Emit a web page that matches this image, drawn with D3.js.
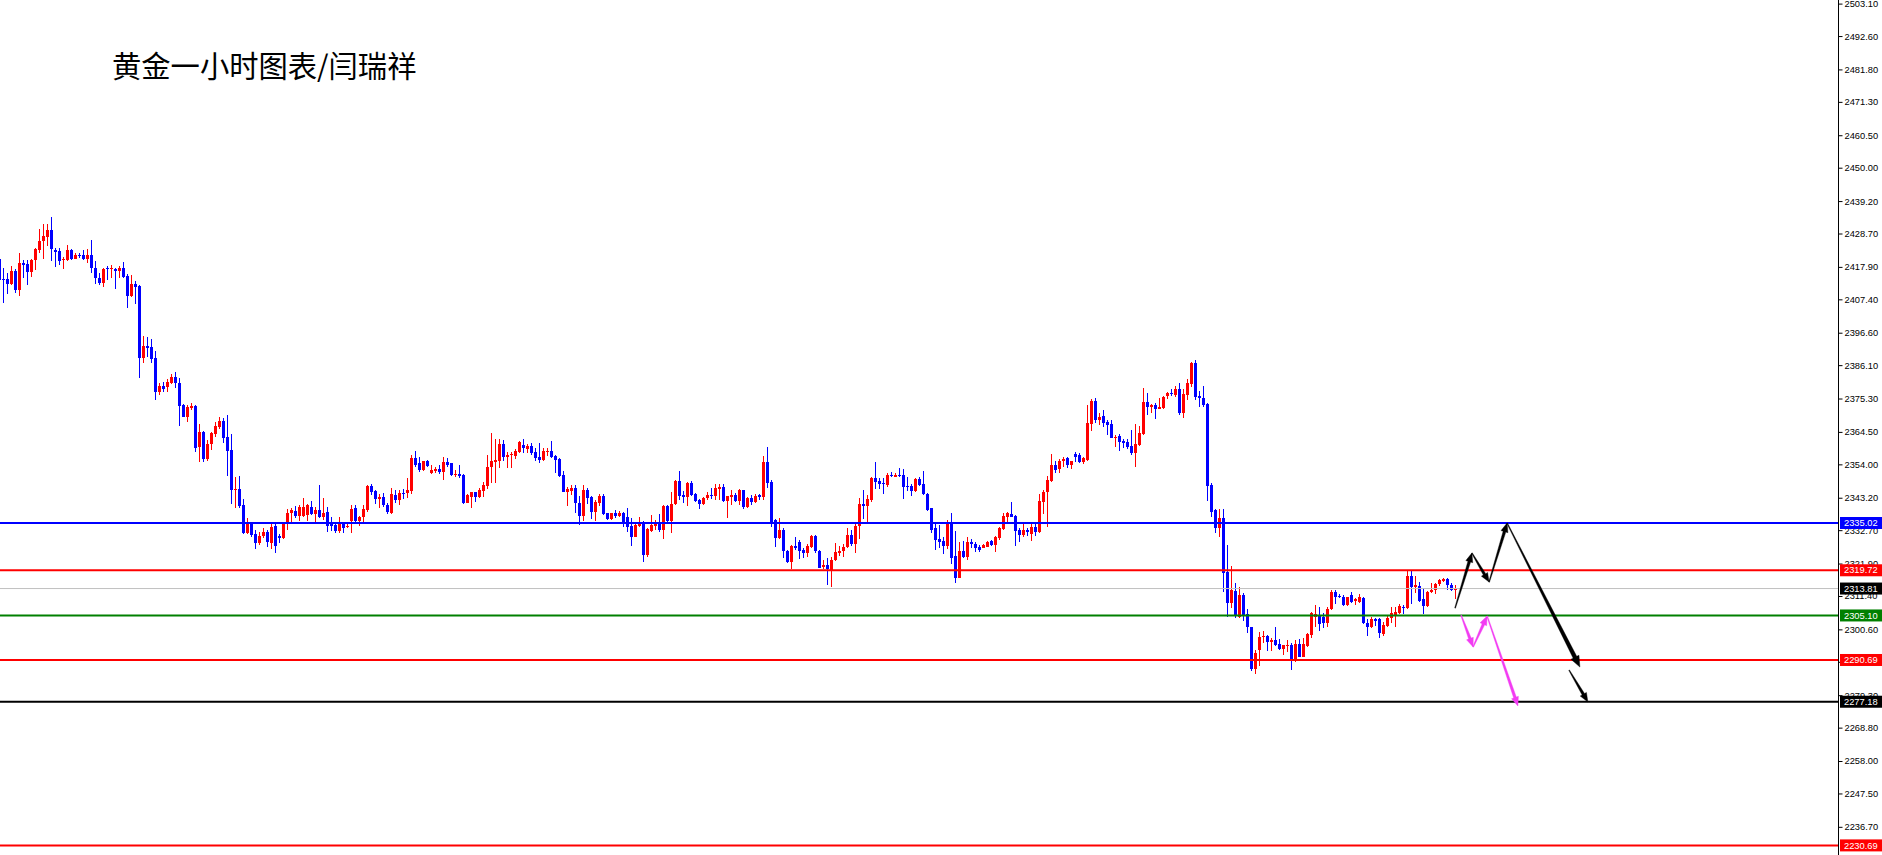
<!DOCTYPE html>
<html><head><meta charset="utf-8">
<script src="https://cdn.jsdelivr.net/npm/d3@7"></script>
<style>html,body{margin:0;padding:0;background:#fff;overflow:hidden}</style>
</head><body><svg id="c" width="1882" height="855"></svg>
<script>
// ---------- DATA (H1 gold candles, oldest -> newest) ----------
const opens=[2420.6,2414.1,2414.0,2412.3,2416.5,2410.4,2419.3,2418.7,2416.3,2420.1,2423.4,
2426.2,2427.7,2429.8,2423.3,2423.0,2420.1,2420.1,2423.3,2420.6,2421.9,
2421.7,2420.4,2421.9,2417.6,2414.4,2412.8,2417.4,2417.1,2417.2,2416.6,
2417.6,2415.0,2408.6,2412.5,2411.7,2388.5,2392.3,2391.9,2388.4,2377.5,
2379.3,2379.1,2380.4,2382.3,2380.2,2373.2,2369.4,2372.2,2373.0,2359.7,
2364.5,2355.7,2360.5,2363.7,2366.2,2368.0,2362.7,2358.6,2346.0,2346.0,
2340.8,2331.9,2334.9,2331.4,2328.4,2330.8,2332.2,2328.7,2334.1,2330.8,
2330.2,2334.6,2338.4,2339.0,2337.3,2337.4,2337.6,2340.1,2337.9,2339.2,
2337.0,2338.6,2334.9,2334.3,2332.5,2334.9,2333.7,2335.8,2339.8,2335.8,
2336.8,2339.2,2347.0,2345.4,2342.7,2343.3,2340.9,2338.4,2344.1,2342.5,
2344.8,2344.6,2345.4,2356.2,2354.3,2352.2,2355.1,2351.3,2351.9,2352.4,
2351.6,2354.9,2354.3,2350.7,2350.9,2350.6,2341.6,2343.3,2344.9,2343.3,
2345.5,2347.0,2353.0,2354.9,2355.2,2360.6,2356.5,2357.0,2356.7,2358.1,
2360.3,2358.9,2359.9,2358.1,2356.5,2355.4,2358.1,2358.3,2356.7,2355.7,
2350.6,2345.2,2345.5,2346.5,2341.6,2337.3,2345.7,2343.5,2338.7,2341.6,
2343.8,2338.2,2336.3,2338.2,2337.3,2338.4,2336.9,2334.1,2330.6,2334.1,
2335.5,2324.7,2332.5,2334.1,2335.5,2332.8,2340.5,2335.8,2341.2,2348.7,
2344.1,2343.5,2348.1,2344.4,2342.5,2341.2,2343.0,2344.1,2343.8,2346.0,
2346.8,2342.3,2343.5,2344.1,2342.1,2345.7,2340.3,2343.0,2341.9,2344.1,
2343.5,2354.9,2348.4,2336.0,2330.1,2332.8,2326.0,2322.5,2327.6,2329.0,
2326.3,2325.4,2327.4,2330.8,2326.0,2320.9,2321.4,2319.8,2323.1,2325.2,
2325.8,2327.2,2331.1,2328.2,2334.1,2341.2,2340.5,2342.5,2349.7,2348.6,
2348.1,2347.3,2350.6,2350.0,2350.6,2350.6,2347.1,2347.1,2345.4,2349.2,
2347.6,2344.4,2339.8,2333.3,2329.7,2329.2,2327.7,2335.1,2324.3,2317.3,
2326.1,2323.9,2329.0,2328.2,2327.4,2327.0,2327.4,2329.2,2327.9,2330.1,
2333.1,2337.1,2337.9,2337.3,2332.9,2331.1,2332.7,2331.6,2333.6,2332.0,
2341.9,2345.2,2348.7,2353.8,2352.4,2355.0,2355.9,2353.8,2357.3,2357.0,
2354.9,2355.4,2367.1,2374.6,2368.3,2369.6,2367.8,2367.0,2362.6,2363.2,
2361.7,2361.3,2359.9,2357.6,2360.3,2363.8,2374.3,2372.7,2373.2,2371.9,
2372.1,2376.1,2377.2,2376.4,2378.3,2370.7,2376.4,2380.0,2386.7,2376.1,
2375.4,2373.5,2347.3,2339.2,2333.3,2336.5,2319.3,2309.0,2313.1,2304.7,
2311.7,2305.5,2301.5,2287.7,2293.9,2298.0,2298.6,2296.6,2297.2,2295.9,
2294.1,2295.2,2295.5,2290.5,2295.9,2291.8,2295.2,2298.8,2304.7,2305.2,
2304.7,2302.8,2307.1,2312.8,2311.4,2311.2,2308.5,2311.7,2309.9,2309.6,
2310.6,2302.8,2301.5,2303.8,2303.8,2299.1,2301.7,2304.2,2305.2,2305.8,
2307.9,2307.4,2317.9,2314.4,2314.6,2310.3,2308.2,2312.8,2313.5,2315.2,
2316.4,2316.8,2315.0,2313.5];
const highs=[2421.2,2417.4,2415.8,2418.2,2417.2,2422.3,2420.1,2420.1,2420.3,2424.1,2430.1,
2431.7,2431.7,2433.9,2424.1,2423.9,2421.2,2425.0,2423.7,2422.3,2422.5,
2423.3,2423.7,2426.6,2419.8,2415.8,2417.6,2418.2,2418.5,2417.6,2418.2,
2419.6,2415.5,2415.2,2413.3,2411.9,2395.5,2395.3,2394.5,2390.7,2380.2,
2380.7,2381.5,2383.1,2384.0,2382.0,2373.5,2373.2,2373.7,2373.2,2367.2,
2364.8,2361.9,2364.5,2367.8,2369.4,2368.9,2369.9,2363.8,2350.0,2350.3,
2342.8,2336.5,2335.2,2332.7,2332.2,2333.5,2332.7,2334.6,2334.6,2331.3,
2334.9,2339.4,2340.0,2340.5,2340.9,2343.0,2341.2,2342.1,2340.1,2347.3,
2343.0,2340.1,2336.9,2334.9,2336.8,2335.5,2335.3,2340.9,2340.9,2337.4,
2340.9,2347.3,2347.5,2345.7,2344.4,2344.8,2341.4,2346.2,2345.7,2345.7,
2345.9,2349.5,2357.0,2358.3,2356.5,2355.2,2355.4,2353.8,2353.0,2353.8,
2356.5,2356.2,2354.5,2352.2,2353.8,2350.8,2344.4,2345.2,2345.2,2346.2,
2348.4,2357.0,2364.0,2362.2,2362.2,2361.9,2358.1,2358.1,2358.9,2361.4,
2362.2,2360.6,2360.8,2359.2,2360.8,2359.2,2359.2,2361.7,2357.0,2356.0,
2352.0,2346.8,2347.3,2347.3,2343.8,2347.3,2346.2,2343.8,2342.5,2344.4,
2344.4,2338.4,2338.4,2339.2,2339.0,2338.7,2339.8,2336.5,2334.9,2336.9,
2335.7,2333.3,2337.6,2336.0,2338.0,2340.9,2340.9,2345.2,2348.8,2352.0,
2345.4,2348.4,2348.7,2344.6,2342.7,2343.3,2345.2,2346.2,2347.6,2347.6,
2347.6,2343.8,2345.7,2344.6,2345.9,2345.7,2343.5,2344.1,2344.4,2344.4,
2356.7,2359.7,2349.0,2336.2,2336.5,2333.3,2326.3,2327.9,2330.6,2329.5,
2326.8,2328.2,2331.1,2331.1,2326.3,2323.1,2323.8,2324.1,2328.7,2327.6,
2328.2,2333.3,2332.8,2334.9,2343.0,2345.7,2344.1,2350.0,2354.7,2349.7,
2349.7,2351.3,2351.6,2351.3,2352.9,2352.4,2350.0,2347.5,2349.7,2350.0,
2351.8,2344.6,2340.0,2334.9,2334.4,2330.6,2336.0,2338.1,2332.4,2329.0,
2329.2,2330.4,2329.8,2329.0,2327.9,2328.2,2329.2,2329.5,2330.8,2333.8,
2338.1,2338.5,2341.7,2337.6,2333.5,2334.9,2333.5,2334.9,2334.9,2344.4,
2345.7,2350.2,2357.3,2355.2,2355.6,2356.3,2356.3,2355.2,2358.1,2357.6,
2356.5,2373.2,2375.0,2375.4,2370.7,2371.6,2368.3,2368.3,2363.5,2363.8,
2362.2,2362.2,2365.1,2367.0,2366.4,2378.6,2377.2,2373.5,2374.0,2375.4,
2376.1,2377.5,2378.3,2379.3,2380.2,2378.3,2381.5,2387.2,2387.8,2377.8,
2379.4,2374.0,2347.9,2339.4,2339.4,2339.4,2327.9,2321.1,2315.5,2314.2,
2312.3,2307.1,2301.5,2293.9,2299.8,2300.2,2298.8,2297.7,2301.5,2297.4,
2295.5,2297.1,2296.3,2297.1,2297.4,2297.7,2299.5,2306.3,2308.5,2307.9,
2305.8,2307.9,2313.5,2313.3,2312.0,2311.7,2311.2,2312.6,2310.6,2311.9,
2311.0,2303.8,2304.7,2304.2,2304.2,2303.1,2304.9,2307.9,2307.7,2308.7,
2308.5,2319.8,2319.8,2317.9,2315.8,2313.9,2313.1,2315.5,2315.7,2316.8,
2317.3,2317.3,2315.5,2315.0];
const lows=[2412.6,2406.3,2409.0,2412.0,2409.5,2408.6,2414.4,2412.0,2414.7,2416.9,2422.3,
2420.4,2424.7,2419.8,2417.9,2418.5,2417.2,2419.8,2420.1,2420.4,2420.9,
2420.1,2419.3,2416.0,2412.3,2412.0,2411.5,2413.6,2414.4,2410.6,2414.4,
2414.2,2404.7,2408.3,2405.8,2382.0,2386.7,2388.8,2386.7,2374.8,2376.4,
2377.3,2377.5,2380.0,2378.8,2366.5,2369.2,2367.8,2371.6,2358.1,2354.8,
2354.8,2355.1,2358.8,2362.9,2365.6,2360.8,2350.3,2341.1,2339.9,2339.9,
2331.3,2331.3,2330.6,2326.6,2327.9,2330.2,2327.3,2326.5,2325.2,2328.4,
2330.0,2332.9,2335.5,2336.5,2335.8,2337.1,2335.8,2337.6,2335.1,2336.5,
2336.0,2332.2,2332.5,2331.7,2331.7,2331.9,2333.3,2331.9,2335.1,2334.2,
2334.7,2338.7,2344.1,2341.1,2340.0,2340.3,2337.8,2338.0,2341.4,2340.9,
2342.8,2343.0,2344.4,2353.3,2351.6,2352.0,2353.3,2350.9,2351.1,2350.9,
2349.0,2353.0,2350.2,2350.0,2349.5,2341.2,2341.4,2340.0,2341.9,2343.0,
2343.3,2345.9,2347.9,2347.9,2352.7,2355.2,2352.7,2352.7,2355.6,2357.6,
2357.8,2357.6,2357.0,2355.2,2354.3,2355.2,2356.7,2356.2,2351.1,2350.0,
2345.0,2340.5,2344.1,2338.4,2334.4,2335.8,2341.2,2336.2,2335.8,2340.5,
2337.6,2336.0,2336.0,2336.5,2337.1,2333.6,2332.2,2327.6,2330.4,2333.8,
2322.5,2323.9,2332.2,2332.8,2332.2,2330.0,2335.5,2331.7,2340.9,2342.5,
2341.6,2340.5,2343.8,2341.9,2339.4,2340.9,2342.5,2342.7,2342.5,2342.5,
2341.9,2336.5,2340.9,2341.9,2340.9,2339.4,2339.8,2340.9,2341.4,2342.5,
2342.5,2346.2,2333.8,2327.4,2329.7,2323.8,2322.2,2320.0,2326.3,2323.3,
2323.6,2323.9,2326.8,2325.4,2320.4,2320.0,2315.0,2314.4,2322.8,2324.4,
2324.1,2326.8,2327.6,2325.4,2329.7,2336.2,2335.5,2341.9,2346.0,2346.0,
2344.4,2346.8,2350.0,2349.8,2350.0,2342.8,2345.5,2343.9,2344.9,2347.1,
2344.1,2339.0,2331.9,2326.3,2326.8,2325.0,2326.6,2321.7,2315.5,2317.1,
2323.6,2323.0,2326.8,2325.5,2325.7,2326.8,2327.1,2327.7,2325.7,2329.5,
2332.7,2335.4,2336.8,2327.7,2329.0,2330.6,2330.8,2329.3,2330.9,2331.9,
2337.9,2333.8,2348.4,2351.3,2351.3,2353.2,2352.7,2352.5,2354.9,2354.5,
2354.1,2355.2,2364.9,2367.5,2366.7,2366.2,2363.5,2362.4,2359.7,2358.4,
2359.2,2358.9,2357.0,2353.2,2359.9,2363.5,2370.0,2370.5,2368.7,2371.8,
2371.8,2375.1,2376.2,2375.9,2370.0,2369.1,2374.8,2378.9,2374.8,2372.7,
2372.7,2342.2,2337.1,2331.9,2330.6,2312.8,2304.7,2307.4,2304.2,2304.2,
2303.4,2299.5,2287.2,2286.1,2288.7,2296.1,2293.6,2293.7,2295.2,2293.9,
2292.3,2293.4,2287.4,2290.1,2291.5,2291.5,2295.0,2297.7,2301.5,2300.2,
2300.9,2301.3,2306.9,2308.8,2310.6,2308.2,2308.2,2309.2,2308.5,2309.2,
2302.3,2298.4,2300.9,2301.7,2297.7,2298.4,2301.3,2302.5,2301.3,2305.6,
2305.6,2307.1,2308.8,2312.3,2309.6,2305.6,2307.7,2312.5,2312.0,2314.6,
2316.0,2313.5,2313.1,2310.3];
const closes=[2413.6,2413.8,2412.3,2416.5,2410.4,2419.3,2418.5,2416.3,2420.1,2423.7,2426.2,
2427.9,2429.8,2423.6,2422.8,2419.8,2420.6,2423.3,2420.4,2421.9,2421.5,
2420.6,2421.9,2417.6,2414.2,2412.8,2417.2,2417.1,2417.4,2416.6,2417.4,
2414.7,2408.6,2412.5,2411.5,2388.5,2392.3,2391.7,2388.1,2377.5,2379.3,
2378.4,2380.7,2382.3,2380.2,2373.0,2369.4,2372.6,2373.0,2359.4,2364.5,
2355.7,2360.7,2364.2,2366.5,2368.0,2362.6,2358.4,2345.7,2346.1,2340.5,
2331.9,2334.9,2331.1,2328.4,2330.8,2332.0,2328.9,2333.8,2327.7,2330.2,
2334.6,2338.4,2339.2,2337.3,2340.1,2340.1,2340.9,2337.9,2339.2,2336.8,
2338.4,2334.2,2334.1,2332.5,2334.7,2333.5,2333.9,2339.4,2335.8,2337.1,
2339.4,2347.0,2345.2,2342.7,2343.5,2340.9,2338.7,2344.4,2342.5,2344.8,
2344.4,2345.7,2356.2,2353.8,2352.2,2355.1,2353.6,2352.2,2352.6,2351.6,
2354.9,2353.8,2350.6,2350.9,2350.2,2341.4,2344.1,2344.9,2343.3,2345.7,
2347.3,2353.3,2355.1,2355.4,2360.6,2356.5,2357.0,2357.2,2358.3,2361.2,
2359.2,2359.9,2357.6,2356.2,2355.4,2358.3,2358.4,2356.5,2355.4,2350.2,
2345.2,2345.9,2346.5,2341.4,2337.3,2345.7,2343.2,2338.7,2341.9,2343.8,
2337.9,2336.3,2338.2,2337.3,2338.2,2335.5,2333.6,2330.6,2334.4,2334.7,
2324.7,2333.0,2334.4,2334.9,2332.8,2340.5,2335.8,2341.2,2348.7,2343.8,
2343.5,2348.1,2344.1,2342.3,2341.2,2343.0,2344.1,2343.8,2346.5,2346.8,
2342.3,2343.8,2344.1,2342.3,2345.7,2340.1,2343.0,2341.9,2343.8,2343.3,
2354.9,2348.1,2335.5,2330.1,2332.8,2325.8,2322.5,2327.6,2326.8,2326.1,
2325.4,2327.6,2330.8,2325.8,2320.6,2321.4,2320.0,2323.1,2325.5,2326.0,
2327.4,2331.1,2328.2,2334.1,2341.2,2340.5,2342.7,2349.7,2348.4,2347.6,
2347.5,2350.6,2350.2,2350.6,2350.2,2346.8,2346.8,2345.4,2349.2,2347.3,
2344.3,2339.2,2332.7,2329.5,2328.8,2327.7,2334.9,2323.6,2317.3,2326.1,
2323.9,2329.0,2328.1,2327.0,2326.3,2327.9,2329.0,2327.9,2330.6,2333.5,
2337.4,2338.1,2337.1,2332.5,2331.1,2332.7,2332.2,2333.6,2332.0,2342.1,
2345.2,2348.9,2353.8,2352.2,2355.1,2355.7,2353.8,2355.1,2356.5,2354.9,
2355.9,2367.3,2374.6,2368.3,2369.2,2367.5,2366.7,2362.6,2362.9,2361.3,
2361.0,2359.5,2357.6,2360.6,2364.0,2374.3,2372.7,2373.2,2371.9,2372.4,
2375.9,2377.2,2376.9,2378.3,2370.5,2376.8,2380.2,2386.7,2375.9,2375.4,
2373.2,2347.0,2338.7,2333.3,2336.5,2318.9,2309.0,2313.5,2304.9,2311.7,
2305.2,2301.3,2287.7,2293.1,2298.2,2298.6,2296.6,2297.2,2295.5,2294.1,
2295.5,2295.5,2290.9,2295.9,2291.8,2295.9,2299.1,2305.8,2305.7,2302.3,
2302.5,2307.1,2312.8,2311.2,2311.0,2308.5,2311.0,2309.6,2310.3,2311.0,
2302.5,2301.5,2303.8,2303.4,2299.3,2302.0,2304.4,2305.8,2306.3,2308.2,
2307.4,2317.9,2314.4,2314.9,2309.9,2308.2,2312.8,2313.5,2315.3,2316.6,
2316.8,2315.0,2313.5,2313.8];

const tickValues=[2503.10,2492.60,2481.80,2471.30,2460.50,2450.00,2439.20,2428.70,2417.90,2407.40,
2396.60,2386.10,2375.30,2364.50,2354.00,2343.20,2332.70,2321.90,2311.40,2300.60,2290.10,2279.30,
2268.80,2258.00,2247.50,2236.70];
const levelPrices=[2335.02,2319.72,2305.10,2290.69,2277.18,2230.69];
const bidPrice=2313.81;
const titleText="黄金一小时图表/闫瑞祥";
// projected paths (candle index, price)
const blackPath=[[363.9,2307.5],[368.1,2325.3],[372.4,2315.9],[376.9,2335.0],[395.1,2288.4]];
const blackPath2=[[392.4,2287.4],[397.1,2277.1]];
const pinkPath=[[365.4,2305.2],[368.4,2294.9],[371.9,2304.9],[379.6,2275.8]];

// ---------- STYLE ----------
const levelColors=["#0000ff","#ff0000","#008000","#ff0000","#000000","#ff0000"];
const BULL="#ff0000", BEAR="#0000ff";
const W=1882,H=855, AX=1838;

const svg=d3.select("#c");
const n=Math.min(opens.length,highs.length,lows.length,closes.length);
const x=d3.scaleLinear().domain([0,364]).range([-0.5,1455.5]);
const y=d3.scaleLinear().domain([2230.69,2503.10]).range([845.4,3.6]);

// candles
const g=svg.append("g").attr("shape-rendering","crispEdges");
const idx=d3.range(n);
g.selectAll("rect.w").data(idx).join("rect")
  .attr("x",i=>x(i)-0.5).attr("width",1)
  .attr("y",i=>y(highs[i])).attr("height",i=>Math.max(1,y(lows[i])-y(highs[i])))
  .attr("fill",i=>closes[i]>=opens[i]?BULL:BEAR);
g.selectAll("rect.b").data(idx).join("rect")
  .attr("x",i=>x(i)-1.5).attr("width",3)
  .attr("y",i=>y(Math.max(opens[i],closes[i])))
  .attr("height",i=>Math.max(1,Math.abs(y(opens[i])-y(closes[i]))))
  .attr("fill",i=>closes[i]>=opens[i]?BULL:BEAR);

// horizontal levels
svg.append("line").attr("x1",0).attr("x2",AX).attr("y1",y(bidPrice)).attr("y2",y(bidPrice))
  .attr("stroke","#c0c0c0").attr("stroke-width",1);
levelPrices.forEach((p,j)=>{
  svg.append("line").attr("x1",0).attr("x2",AX).attr("y1",y(p)).attr("y2",y(p))
    .attr("stroke",levelColors[j]).attr("stroke-width",2);
});

// arrows
function arrowPoly(p0,p1,w0,w1,hl,hw){
  const dx=p1[0]-p0[0],dy=p1[1]-p0[1],L=Math.hypot(dx,dy);
  const ux=dx/L,uy=dy/L,nx=-uy,ny=ux;
  const bx=p1[0]-ux*hl,by=p1[1]-uy*hl;
  return [[p0[0]+nx*w0,p0[1]+ny*w0],[bx+nx*w1,by+ny*w1],[bx+nx*hw,by+ny*hw],p1,
          [bx-nx*hw,by-ny*hw],[bx-nx*w1,by-ny*w1],[p0[0]-nx*w0,p0[1]-ny*w0]];
}
function drawPath(pts,color){
  const px=pts.map(d=>[x(d[0]),y(d[1])]);
  for(let k=0;k<px.length-1;k++){
    const long=Math.hypot(px[k+1][0]-px[k][0],px[k+1][1]-px[k][1])>100;
    const poly=arrowPoly(px[k],px[k+1],0.4,long?2.0:1.4,long?11:9,long?4.5:3.6);
    svg.append("polygon").attr("points",poly.map(p=>p.join(",")).join(" "))
      .attr("fill",color).attr("stroke",color).attr("stroke-width",0.4);
  }
}
drawPath(blackPath,"#000000");
drawPath(blackPath2,"#000000");
drawPath(pinkPath,"#f23cf2");

// axis
svg.append("line").attr("x1",AX+0.5).attr("x2",AX+0.5).attr("y1",0).attr("y2",H)
  .attr("stroke","#000").attr("stroke-width",1);
const axis=d3.axisRight(y).tickValues(tickValues).tickFormat(d3.format(".2f"))
  .tickSize(4).tickSizeOuter(0).tickPadding(2);
const ag=svg.append("g").attr("transform",`translate(${AX+0.5},0)`).call(axis);
ag.select(".domain").remove();
ag.selectAll("text").attr("font-family","'Liberation Sans',Arial,sans-serif").attr("font-size","9.3px").attr("fill","#000");
ag.selectAll("line").attr("stroke","#000");

// price boxes
function priceBox(p,bg){
  const yy=y(p);
  svg.append("rect").attr("x",1840).attr("y",yy-6).attr("width",42).attr("height",12).attr("fill",bg);
  svg.append("text").attr("x",1844).attr("y",yy).attr("dy","0.34em")
    .attr("font-family","'Liberation Sans',Arial,sans-serif").attr("font-size","9.3px")
    .attr("fill","#fff").text(p.toFixed(2));
}
levelPrices.forEach((p,j)=>priceBox(p,levelColors[j]));
priceBox(bidPrice,"#000000");

// title
svg.append("text").attr("x",112).attr("y",77)
  .attr("font-family","'Noto Sans CJK SC','Noto Sans',sans-serif").attr("font-size","29.3px")
  .attr("fill","#000").text(titleText);
</script></body></html>
